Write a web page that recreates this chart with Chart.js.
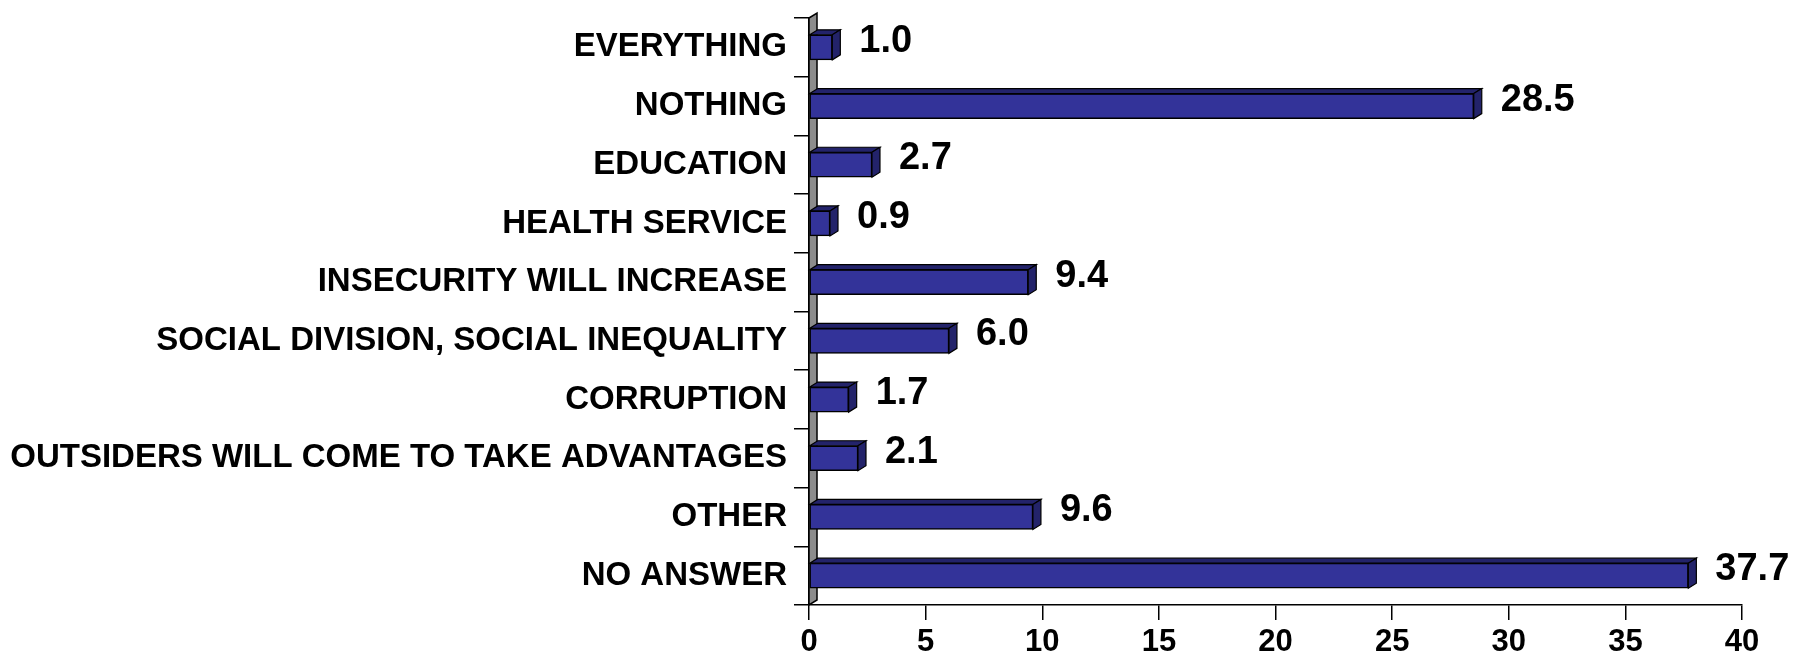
<!DOCTYPE html>
<html>
<head>
<meta charset="utf-8">
<script src="https://cdn.jsdelivr.net/npm/chart.js@4/dist/chart.umd.min.js"></script>
<style>
  html, body { margin: 0; padding: 0; background: #fff; }
  #wrap { width: 1814px; height: 664px; }
</style>
</head>
<body>
<div id="wrap"><canvas id="myChart" width="1814" height="664"></canvas></div>
<script>
const categories = [
  'EVERYTHING',
  'NOTHING',
  'EDUCATION',
  'HEALTH SERVICE',
  'INSECURITY WILL INCREASE',
  'SOCIAL DIVISION, SOCIAL INEQUALITY',
  'CORRUPTION',
  'OUTSIDERS WILL COME TO TAKE ADVANTAGES',
  'OTHER',
  'NO ANSWER'
];
const values = [1.0, 28.5, 2.7, 0.9, 9.4, 6.0, 1.7, 2.1, 9.6, 37.7];
const xTicks = [0, 5, 10, 15, 20, 25, 30, 35, 40];

const FONT = '"Liberation Sans", Arial, sans-serif';
const DX = 8, DY = 5; // 3d depth

// gray side wall + 3d faces for bars
const threeD = {
  id: 'threeD',
  beforeDatasetsDraw(chart) {
    const ctx = chart.ctx;
    const a = chart.chartArea;
    ctx.save();
    ctx.beginPath();
    ctx.moveTo(a.left, a.top);
    ctx.lineTo(a.left + DX, a.top - DY);
    ctx.lineTo(a.left + DX, a.bottom - DY);
    ctx.lineTo(a.left, a.bottom);
    ctx.closePath();
    ctx.fillStyle = '#8c8c8c';
    ctx.fill();
    ctx.lineWidth = 1.5;
    ctx.strokeStyle = '#000';
    ctx.stroke();
    ctx.restore();
  },
  afterDatasetsDraw(chart) {
    const ctx = chart.ctx;
    const meta = chart.getDatasetMeta(0);
    ctx.save();
    ctx.lineWidth = 1.2;
    ctx.strokeStyle = '#000';
    ctx.fillStyle = '#23236a';
    meta.data.forEach(bar => {
      const x0 = bar.base, x1 = bar.x;
      const t = bar.y - bar.height / 2, b = bar.y + bar.height / 2;
      // top face
      ctx.beginPath();
      ctx.moveTo(x0, t);
      ctx.lineTo(x0 + DX, t - DY);
      ctx.lineTo(x1 + DX, t - DY);
      ctx.lineTo(x1, t);
      ctx.closePath();
      ctx.fill(); ctx.stroke();
      // side face
      ctx.beginPath();
      ctx.moveTo(x1, t);
      ctx.lineTo(x1 + DX, t - DY);
      ctx.lineTo(x1 + DX, b - DY);
      ctx.lineTo(x1, b);
      ctx.closePath();
      ctx.fill(); ctx.stroke();
    });
    // value labels
    ctx.fillStyle = '#000';
    ctx.font = 'bold 38px ' + FONT;
    ctx.textAlign = 'left';
    ctx.textBaseline = 'middle';
    meta.data.forEach((bar, i) => {
      ctx.fillText(values[i].toFixed(1), bar.x + 27, bar.y - 6);
    });
    ctx.restore();
  }
};

new Chart(document.getElementById('myChart'), {
  type: 'bar',
  data: {
    labels: categories,
    datasets: [{
      data: values,
      backgroundColor: '#333399',
      borderColor: '#000',
      borderWidth: 1.5,
      borderSkipped: false,
      barThickness: 25
    }]
  },
  options: {
    indexAxis: 'y',
    responsive: false,
    animation: false,
    events: [],
    layout: { padding: { top: 18, right: 72, left: 0, bottom: 0 } },
    plugins: { legend: { display: false }, tooltip: { enabled: false } },
    scales: {
      x: {
        min: 0, max: 40,
        afterFit(scale) { scale.height = 59; scale.paddingLeft = 0; scale.paddingRight = 0; },
        afterBuildTicks(scale) { scale.ticks = xTicks.map(v => ({ value: v })); },
        border: { color: '#000', width: 1.5 },
        grid: { drawOnChartArea: false, tickLength: 15, color: '#000', lineWidth: 1.5 },
        ticks: { color: '#000', padding: 4, font: { family: FONT, size: 31, weight: 'bold' } }
      },
      y: {
        afterFit(scale) { scale.width = 809; scale.paddingTop = 0; scale.paddingBottom = 0; },
        border: { color: '#000', width: 1.5 },
        grid: { offset: true, drawOnChartArea: false, tickLength: 15, color: '#000', lineWidth: 1.5 },
        ticks: { color: '#000', padding: 7, font: { family: FONT, size: 33, weight: 'bold' } }
      }
    }
  },
  plugins: [threeD]
});
</script>
</body>
</html>
